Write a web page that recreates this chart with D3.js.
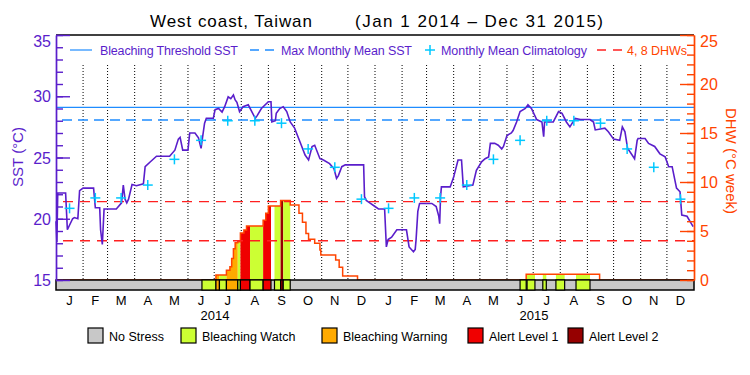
<!DOCTYPE html>
<html>
<head>
<meta charset="utf-8">
<title>West coast, Taiwan</title>
<script src="https://d3js.org/d3.v7.min.js"></script>
<style>
  body { margin: 0; background: #fff; }
  svg { display: block; font-family: "Liberation Sans", Arial, sans-serif; }
</style>
</head>
<body>
<svg width="750" height="375"></svg>
<script>
// ---- data ----
var bleachingThreshold = 29.1;
var maxMonthlyMean = 28.06;
var dhwLevels = [4, 8];
var monthLabels = ['J','F','M','A','M','J','J','A','S','O','N','D'];
var years = [2014, 2015];
// monthly mean climatology (same every year)
var climatology = [20.85, 21.7, 21.7, 22.75, 24.85, 26.4, 28.0, 28.0, 27.8, 25.7, 24.2, 21.6];

// SST: [day since Jan 1 2014, degC]
var sst = [
  [0,19.8],[1,18.1],[2,22.1],[11,22.1],[13,19.1],[19,20.0],[21,20.1],[25,20.0],[27,22.3],[31,22.5],
  [43,22.5],[45,20.9],[50,20.9],[51,19.1],[53,17.9],[55,20.8],[69,20.8],[75,21.3],[77,22.75],[79,21.6],
  [81,21.3],[83,21.6],[87,22.8],[92,22.7],[100,22.85],[102,24.25],[108,24.65],[115,25.1],[130,25.1],[136,25.6],
  [140,26.5],[142,26.65],[145,25.6],[151,25.6],[153,27.0],[159,27.0],[163,26.6],[166,25.75],[167,26.3],[170,27.8],
  [172,28.2],[180,28.2],[182,28.9],[186,29.0],[190,28.7],[193,29.15],[197,29.95],[200,29.8],[203,30.1],[205,29.7],
  [207,29.5],[210,28.75],[214,29.15],[220,29.3],[224,28.75],[228,28.2],[230,28.4],[235,29.0],[243,29.55],[246,29.55],
  [247,27.9],[251,28.0],[252,28.6],[256,29.0],[260,29.15],[264,28.75],[268,27.9],[273,27.4],[279,26.3],[285,25.2],
  [289,24.8],[293,25.9],[296,26.0],[302,24.9],[306,24.8],[313,24.5],[318,24.1],[321,23.3],[323,23.5],[327,24.25],
  [331,24.4],[352,24.4],[353,21.8],[355,21.5],[359,21.3],[365,21.0],[369,20.8],[376,20.8],[378,17.7],[380,18.3],
  [384,18.5],[390,19.1],[401,19.1],[404,17.7],[409,17.3],[411,17.5],[412,18.3],[414,20.6],[416,21.25],[430,21.25],
  [435,21.0],[438,20.2],[439,19.6],[440,21.8],[441,22.6],[451,22.6],[455,23.4],[460,24.8],[464,24.8],[466,22.6],
  [477,22.75],[481,23.95],[487,24.65],[491,24.9],[495,25.05],[497,26.15],[502,26.15],[506,26.0],[510,25.7],[512,25.9],
  [516,26.8],[521,27.0],[523,27.2],[527,27.9],[531,28.75],[537,29.0],[540,29.3],[544,29.0],[550,28.1],[556,27.9],
  [558,26.7],[559,27.9],[569,27.9],[575,28.75],[579,28.6],[584,27.9],[588,27.5],[594,28.2],[600,28.1],[611,28.1],
  [615,27.9],[617,27.25],[628,27.4],[632,27.1],[638,26.5],[645,26.4],[648,27.5],[651,27.1],[654,25.75],[662,24.9],
  [665,26.4],[666,26.55],[674,26.55],[678,26.15],[685,25.9],[691,25.3],[697,25.05],[701,24.25],[705,24.25],[710,22.5],
  [714,22.2],[716,20.3],[722,20.2],[729,19.35]
];

// degree heating weeks, step values: [date, DHW]
var dhw = [
  ['2014-01-01',0],['2014-07-03',0.5],['2014-07-15',1.0],['2014-07-19',1.36],['2014-07-21',2.2],
  ['2014-07-23',3.2],['2014-07-25',3.8],['2014-07-28',3.9],['2014-07-31',4.8],['2014-08-04',5.1],
  ['2014-08-07',5.5],['2014-08-26',6.1],['2014-08-29',6.8],['2014-09-01',7.55],['2014-09-15',8.1],
  ['2014-09-26',7.65],['2014-10-06',6.8],['2014-10-10',5.9],['2014-10-14',4.75],['2014-10-17',4.15],
  ['2014-10-24',3.75],['2014-10-30',3.05],['2014-10-31',2.55],['2014-11-17',2.05],['2014-11-21',1.3],
  ['2014-11-25',0.4],['2014-12-12',0],['2015-06-23',0.58],['2015-09-15',0],['2016-01-01',0]
];

// stress level periods: [start, end, level]  1 watch, 2 warning, 3 alert 1, 4 alert 2
var stress = [
  ['2014-06-17','2014-07-03',1],['2014-07-03','2014-07-07',2],['2014-07-07','2014-07-15',1],
  ['2014-07-15','2014-07-28',2],['2014-07-28','2014-07-31',1],['2014-07-31','2014-08-11',3],
  ['2014-08-11','2014-08-26',1],['2014-08-26','2014-09-04',3],['2014-09-08','2014-09-15',1],
  ['2014-09-15','2014-09-18',4],['2014-09-18','2014-09-26',1],
  ['2015-06-16','2015-06-23',1],['2015-06-24','2015-07-03',1],['2015-07-12','2015-07-16',1],
  ['2015-07-27','2015-08-06',1],['2015-08-19','2015-09-04',1]
];
var stressNames = ['No Stress','Bleaching Watch','Bleaching Warning','Alert Level 1','Alert Level 2'];
var stressColors = ['#c8c8c8','#ccff33','#ffaa00','#f00000','#960000'];

// ---- layout ----
var purple = '#5a1ecb', orange = '#ff4400', blue = '#1e8cff', cyan = '#00c8ff', red = '#ff2020';
var plotL = 56, plotR = 694, plotT = 35, plotB = 280, barH = 10;
var parse = d3.timeParse('%Y-%m-%d');
var start = new Date(2014, 0, 1), end = new Date(2016, 0, 1);

var svg = d3.select('svg');

var x = d3.scaleTime().domain([start, end]).range([plotL, plotR]);
var ySST = d3.scaleLinear().domain([15, 35]).range([plotB, plotT]);
var yDHW = d3.scaleLinear().domain([0, 25]).range([plotB, plotT]);

// title
svg.append('text').attr('x', 150).attr('y', 27).attr('font-size', 17)
  .attr('textLength', 162).text('West coast, Taiwan');
svg.append('text').attr('x', 355).attr('y', 27).attr('font-size', 17)
  .attr('textLength', 248).text('(Jan 1 2014 \u2013 Dec 31 2015)');

// month grid lines
var months = d3.timeMonth.range(d3.timeMonth.offset(start, 1), end);
svg.append('g').selectAll('line').data(months).enter().append('line')
  .attr('x1', d => x(d)).attr('x2', d => x(d))
  .attr('y1', 65).attr('y2', plotB)
  .attr('stroke', '#000').attr('stroke-width', 1).attr('stroke-dasharray', '1,2');

// DHW fills by stress level
var dhwData = dhw.map(d => ({date: parse(d[0]), v: d[1]}));
var dhwArea = d3.area().curve(d3.curveStepAfter)
  .x(d => x(d.date)).y0(yDHW(0)).y1(d => yDHW(d.v));
var defs = svg.append('defs');
stress.forEach(function (s, i) {
  defs.append('clipPath').attr('id', 'clip' + i).append('rect')
    .attr('x', x(parse(s[0]))).attr('width', x(parse(s[1])) - x(parse(s[0])))
    .attr('y', plotT).attr('height', plotB - plotT);
  svg.append('path').datum(dhwData).attr('d', dhwArea)
    .attr('fill', stressColors[s[2]]).attr('clip-path', 'url(#clip' + i + ')');
});

// DHW outline
svg.append('path').datum(dhwData)
  .attr('d', d3.line().curve(d3.curveStepAfter).x(d => x(d.date)).y(d => yDHW(d.v)))
  .attr('fill', 'none').attr('stroke', orange).attr('stroke-width', 1.5);

// reference lines
svg.append('line').attr('x1', plotL).attr('x2', plotR)
  .attr('y1', ySST(bleachingThreshold)).attr('y2', ySST(bleachingThreshold))
  .attr('stroke', blue).attr('stroke-width', 1.2);
svg.append('line').attr('x1', plotL).attr('x2', plotR)
  .attr('y1', ySST(maxMonthlyMean)).attr('y2', ySST(maxMonthlyMean))
  .attr('stroke', blue).attr('stroke-width', 1.5).attr('stroke-dasharray', '10,6')
  .attr('stroke-dashoffset', -6);
svg.append('g').selectAll('line').data(dhwLevels).enter().append('line')
  .attr('x1', plotL).attr('x2', plotR)
  .attr('y1', d => yDHW(d)).attr('y2', d => yDHW(d))
  .attr('stroke', red).attr('stroke-width', 1.4).attr('stroke-dasharray', '10,7')
  .attr('stroke-dashoffset', -7);

// SST line
svg.append('path').datum(sst)
  .attr('d', d3.line().x(d => x(d3.timeDay.offset(start, d[0]))).y(d => ySST(d[1])))
  .attr('fill', 'none').attr('stroke', purple).attr('stroke-width', 1.6);

// climatology crosses at mid month
var clim = [];
years.forEach(function (yr) {
  climatology.forEach(function (v, m) {
    var a = new Date(yr, m, 1), b = new Date(yr, m + 1, 1);
    clim.push({date: new Date((+a + +b) / 2), v: v});
  });
});
var cross = svg.append('g').selectAll('g').data(clim).enter().append('g')
  .attr('transform', d => 'translate(' + x(d.date) + ',' + ySST(d.v) + ')')
  .attr('stroke', cyan).attr('stroke-width', 1.5);
cross.append('line').attr('x1', -5).attr('x2', 5);
cross.append('line').attr('y1', -5).attr('y2', 5);

// stress bar
svg.append('rect').attr('x', plotL).attr('y', plotB).attr('width', plotR - plotL).attr('height', barH)
  .attr('fill', stressColors[0]).attr('stroke', '#000').attr('stroke-width', 1.5);
svg.append('g').selectAll('rect').data(stress).enter().append('rect')
  .attr('x', d => x(parse(d[0]))).attr('y', plotB)
  .attr('width', d => x(parse(d[1])) - x(parse(d[0]))).attr('height', barH)
  .attr('fill', d => stressColors[d[2]]).attr('stroke', '#000').attr('stroke-width', 1.2);

// frame top
svg.append('line').attr('x1', plotL).attr('x2', plotR).attr('y1', plotT).attr('y2', plotT)
  .attr('stroke', '#000').attr('stroke-width', 1.5);

// left axis (SST)
var gl = svg.append('g').attr('transform', 'translate(' + plotL + ',0)');
gl.call(d3.axisLeft(ySST).ticks(20).tickSize(-7).tickSizeOuter(0).tickFormat(''));
gl.append('g').call(d3.axisLeft(ySST).tickValues([15, 20, 25, 30, 35]).tickSize(-14).tickSizeOuter(0).tickPadding(5));
gl.selectAll('path,line').attr('stroke', purple).attr('stroke-width', 1.4);
gl.selectAll('text').attr('fill', purple).attr('font-size', 16)
  .attr('dy', d => d === 35 ? '0.7em' : '0.35em');

// right axis (DHW)
var gr = svg.append('g').attr('transform', 'translate(' + plotR + ',0)');
gr.call(d3.axisRight(yDHW).ticks(25).tickSize(-7).tickSizeOuter(0).tickFormat(''));
gr.append('g').call(d3.axisRight(yDHW).tickValues([0, 5, 10, 15, 20, 25]).tickSize(-14).tickSizeOuter(0).tickPadding(6));
gr.selectAll('path,line').attr('stroke', orange).attr('stroke-width', 1.4);
gr.selectAll('text').attr('fill', orange).attr('font-size', 16)
  .attr('dy', d => d === 25 ? '0.7em' : '0.35em');

// axis titles
svg.append('text').attr('transform', 'translate(23,157) rotate(-90)')
  .attr('text-anchor', 'middle').attr('fill', purple).attr('font-size', 15).text('SST (\u00B0C)');
svg.append('text').attr('transform', 'translate(726,161) rotate(90)')
  .attr('text-anchor', 'middle').attr('fill', orange).attr('font-size', 15).text('DHW (\u00B0C week)');

// month and year labels
var mids = [];
years.forEach(function (yr) {
  monthLabels.forEach(function (lab, m) {
    var a = new Date(yr, m, 1), b = new Date(yr, m + 1, 1);
    mids.push({date: new Date((+a + +b) / 2), lab: lab});
  });
});
svg.append('g').selectAll('text').data(mids).enter().append('text')
  .attr('x', d => x(d.date)).attr('y', 305).attr('text-anchor', 'middle')
  .attr('font-size', 13).text(d => d.lab);
svg.append('g').selectAll('text').data(years).enter().append('text')
  .attr('x', d => x(new Date(d, 6, 2))).attr('y', 320).attr('text-anchor', 'middle')
  .attr('font-size', 13).text(d => d);

// top legend
var lg = svg.append('g').attr('font-size', 12.5);
lg.append('line').attr('x1', 70).attr('x2', 92).attr('y1', 50).attr('y2', 50).attr('stroke', blue).attr('stroke-width', 1.2);
lg.append('text').attr('x', 100).attr('y', 54.5).attr('fill', purple).attr('textLength', 138).text('Bleaching Threshold SST');
lg.append('line').attr('x1', 250).attr('x2', 274).attr('y1', 50).attr('y2', 50).attr('stroke', blue)
  .attr('stroke-width', 1.5).attr('stroke-dasharray', '9,6');
lg.append('text').attr('x', 281).attr('y', 54.5).attr('fill', purple).attr('textLength', 131).text('Max Monthly Mean SST');
lg.append('line').attr('x1', 425).attr('x2', 435).attr('y1', 50).attr('y2', 50).attr('stroke', cyan).attr('stroke-width', 1.5);
lg.append('line').attr('x1', 430).attr('x2', 430).attr('y1', 45).attr('y2', 55).attr('stroke', cyan).attr('stroke-width', 1.5);
lg.append('text').attr('x', 441).attr('y', 54.5).attr('fill', purple).attr('textLength', 146).text('Monthly Mean Climatology');
lg.append('line').attr('x1', 597).attr('x2', 622).attr('y1', 50).attr('y2', 50).attr('stroke', red)
  .attr('stroke-width', 1.4).attr('stroke-dasharray', '9,7');
lg.append('text').attr('x', 627).attr('y', 54.5).attr('fill', orange).attr('textLength', 60).text('4, 8 DHWs');

// bottom legend
var legX = [88, 181, 322, 468, 568];
var bl = svg.append('g').selectAll('g').data(stressNames).enter().append('g')
  .attr('transform', (d, i) => 'translate(' + legX[i] + ',328)');
bl.append('rect').attr('width', 15).attr('height', 15)
  .attr('fill', (d, i) => stressColors[i]).attr('stroke', '#000').attr('stroke-width', 1.2);
bl.append('text').attr('x', 21).attr('y', 12.5).attr('font-size', 12.5).text(d => d);
</script>
</body>
</html>
